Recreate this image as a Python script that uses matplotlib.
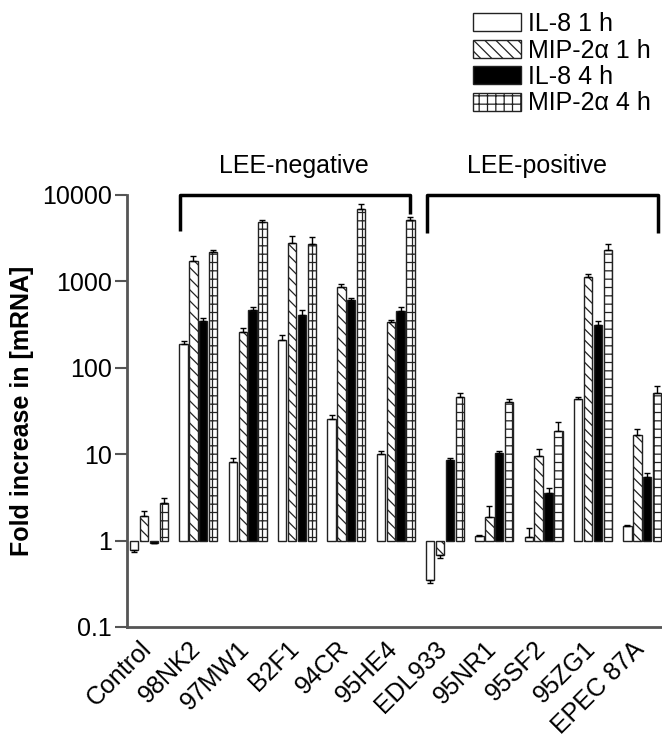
import numpy as np
import matplotlib.pyplot as plt
import matplotlib.transforms as mtransforms
from matplotlib.ticker import FixedLocator, NullLocator

plt.rcParams['font.family'] = ['Liberation Sans', 'DejaVu Sans']
plt.rcParams['hatch.linewidth'] = 0.9

groups = ['Control', '98NK2', '97MW1', 'B2F1', '94CR', '95HE4',
          'EDL933', '95NR1', '95SF2', '95ZG1', 'EPEC 87A']

# fold increase of mRNA per strain
il8_1h = [0.78, 190, 8.2, 209, 25.5, 10, 0.35, 1.13, 1.1, 44, 1.48]
mip_1h = [1.93, 1700, 258, 2790, 870, 342, 0.68, 1.9, 9.6, 1125, 16.8]
il8_4h = [0.95, 352, 470, 412, 604, 458, 8.6, 10.4, 3.6, 311, 5.5]
mip_4h = [2.7, 2190, 4880, 2680, 6800, 5100, 45.7, 39.7, 18.6, 2290, 51]

il8_1h_err = [0.05, 15, 0.8, 30, 3, 0.8, 0.03, 0.04, 0.3, 2, 0.05]
mip_1h_err = [0.3, 250, 30, 600, 60, 20, 0.05, 0.6, 2, 80, 3]
il8_4h_err = [0.02, 30, 30, 50, 30, 50, 0.5, 0.5, 0.5, 40, 0.6]
mip_4h_err = [0.4, 100, 200, 600, 1000, 400, 5, 4, 5, 400, 10]

series = [
    ('IL-8 1 h', il8_1h, il8_1h_err, 'white', ''),
    ('MIP-2\u03b1 1 h', mip_1h, mip_1h_err, 'white', '\\\\\\'),
    ('IL-8 4 h', il8_4h, il8_4h_err, 'black', ''),
    ('MIP-2\u03b1 4 h', mip_4h, mip_4h_err, 'white', '++'),
]

fig = plt.figure(figsize=(6.62, 7.38), dpi=100)
ax = fig.add_axes([127 / 662, 1 - 627 / 738, 535 / 662, (627 - 195) / 738])

x = np.arange(len(groups))
offsets = [-0.3, -0.1, 0.1, 0.3]
width = 0.17
handles = []
for (label, vals, errs, fc, hatch), off in zip(series, offsets):
    vals = np.array(vals)
    errs = np.array(errs)
    # bars start at 1 (no change), so values below 1 hang downwards
    b = ax.bar(x + off, vals - 1, bottom=1, width=width, color=fc,
               edgecolor='#222222', linewidth=1.0, hatch=hatch, label=label)
    handles.append(b)
    lower = np.where(vals < 1, errs, 0)
    upper = np.where(vals >= 1, errs, 0)
    ax.errorbar(x + off, vals, yerr=[lower, upper], fmt='none',
                ecolor='black', elinewidth=1.0, capsize=2, capthick=1.0)

ax.set_yscale('log')
ax.set_ylim(0.1, 10000)
ax.set_xlim(-0.446, 10.4)
ax.yaxis.set_major_locator(FixedLocator([0.1, 1, 10, 100, 1000, 10000]))
ax.yaxis.set_minor_locator(NullLocator())
ax.set_yticklabels(['0.1', '1', '10', '100', '1000', '10000'])
ax.set_xticks(x)
ax.set_xticklabels(groups, rotation=45, ha='right', rotation_mode='anchor')
ax.tick_params(axis='x', length=0, pad=7, labelsize=18)
ax.tick_params(axis='y', length=9, width=1.5, color='#555555', labelsize=18, pad=2)

# nudge the slanted names so they end under their group
shift = mtransforms.ScaledTranslation(-10 / 100, 0, fig.dpi_scale_trans)
for lab in ax.get_xticklabels():
    lab.set_transform(lab.get_transform() + shift)

for s in ['top', 'right']:
    ax.spines[s].set_visible(False)
for s in ['left', 'bottom']:
    ax.spines[s].set_color('#555555')
    ax.spines[s].set_linewidth(2)
ax.set_ylabel('Fold increase in [mRNA]', fontsize=18, fontweight='bold', labelpad=6)

# brackets for the two strain groups
ax.plot([0.62, 0.62, 5.3, 5.3], [3800, 10000, 10000, 6000], color='black',
        lw=2.5, clip_on=False, solid_capstyle='butt')
ax.plot([5.64, 5.64, 10.32, 10.32], [3600, 10000, 10000, 3600], color='black',
        lw=2.5, clip_on=False, solid_capstyle='butt')
ax.text(2.93, 21600, 'LEE-negative', ha='center', va='center', fontsize=18)
ax.text(7.87, 21600, 'LEE-positive', ha='center', va='center', fontsize=18)

fig.legend(handles=handles, loc='upper left', bbox_to_anchor=(473 / 662, 1 - 12 / 738),
           frameon=False, fontsize=18, handlelength=1.9, handleheight=0.72,
           handletextpad=0.32, labelspacing=0.1, borderpad=0, borderaxespad=0)

fig.savefig('out.png', dpi=100)
